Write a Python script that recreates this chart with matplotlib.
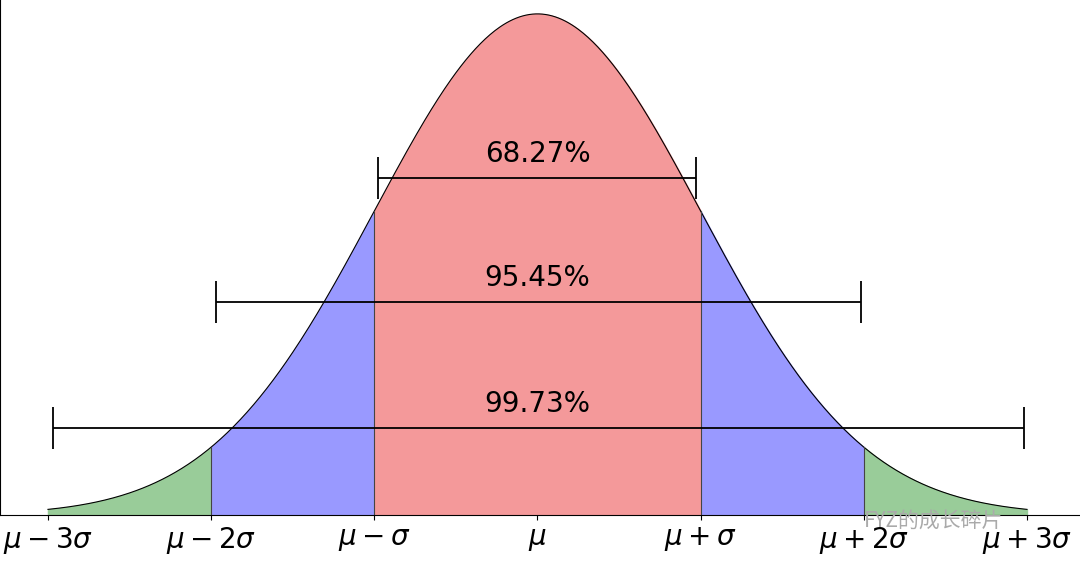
import numpy as np
import matplotlib
matplotlib.use("Agg")
import matplotlib.pyplot as plt

tick_pos = [-3, -2, -1, 0, 1, 2, 3]
tick_labels = [r'$\mu-3\sigma$', r'$\mu-2\sigma$', r'$\mu-\sigma$', r'$\mu$',
               r'$\mu+\sigma$', r'$\mu+2\sigma$', r'$\mu+3\sigma$']
pct_labels = ['68.27%', '95.45%', '99.73%']
bar_y = [0.268, 0.1696, 0.0693]
bar_lo = [-0.98, -1.97, -2.97]
bar_hi = [0.97, 1.98, 2.98]

fig = plt.figure(figsize=(10.8, 5.69), dpi=100)
ax = fig.add_axes([0.0, 0.095, 1.0, 0.905])
x = np.linspace(-3, 3, 601)
y = np.exp(-x**2 / 2) / np.sqrt(2 * np.pi)
ax.plot(x, y, color='black', lw=0.8)
def fill(a, b, c):
    m = (x >= a) & (x <= b)
    ax.fill_between(x[m], 0, y[m], color=c)
fill(-3, -2, '#99cc99'); fill(2, 3, '#99cc99')
fill(-2, -1, '#9999ff'); fill(1, 2, '#9999ff')
fill(-1, 1, '#f4999a')
for v in [-2, -1, 1, 2]:
    ax.plot([v, v], [0, np.exp(-v**2/2)/np.sqrt(2*np.pi)], color='#444444', lw=0.8)
for lab, yy, lo, hi in zip(pct_labels, bar_y, bar_lo, bar_hi):
    ax.errorbar([(lo+hi)/2], [yy], xerr=[[ (hi-lo)/2 ], [(hi-lo)/2]], color='black',
                capsize=15, lw=1.3, capthick=1.3)
    ax.text(0, yy + 0.008, lab, ha='center', va='bottom', fontsize=20)
ax.set_xlim(-3.294, 3.325)
ax.set_ylim(0, 0.41)
ax.set_xticks(tick_pos)
ax.set_xticklabels(tick_labels, fontsize=20)
ax.set_yticks([])
ax.spines['top'].set_visible(False)
ax.spines['right'].set_visible(False)
fig.text(0.80, 0.065, 'FYZ的成长碎片', fontsize=15, color='#aaaaaa',
         family=['Noto Sans CJK SC', 'DejaVu Sans'], va='bottom')
fig.savefig('out.png', dpi=100)
